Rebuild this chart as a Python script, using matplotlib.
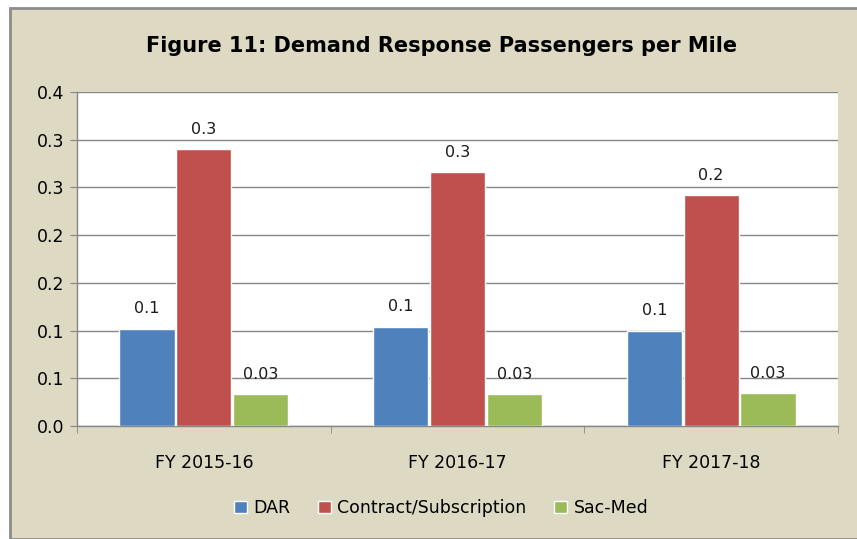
import matplotlib.pyplot as plt
import numpy as np
from matplotlib.patches import Rectangle
from matplotlib.ticker import MultipleLocator, FormatStrFormatter

years = ['FY 2015-16', 'FY 2016-17', 'FY 2017-18']
dar = [0.102, 0.104, 0.100]
contract = [0.290, 0.266, 0.242]
sac_med = [0.0335, 0.0333, 0.0345]

series = [
    ('DAR', dar, '#4F81BD', '{:.1f}'),
    ('Contract/Subscription', contract, '#C0504D', '{:.1f}'),
    ('Sac-Med', sac_med, '#9BBB59', '{:.2f}'),
]

plt.rcParams['font.family'] = ['DejaVu Sans']

fig = plt.figure(figsize=(8.57, 5.39), dpi=100, facecolor='white')
# beige chart-area background with grey border
fig.patches.append(Rectangle((10 / 857, 0), 1, 1 - 8 / 539, transform=fig.transFigure,
                             facecolor='#DDD9C3', edgecolor='#8C8C8C', linewidth=2, zorder=-5))

ax = fig.add_axes([77 / 857, 1 - 426 / 539, (838 - 77) / 857, (426 - 92) / 539])
ax.set_facecolor('white')

x = np.arange(len(years))
width = 0.218
for i, (name, vals, color, fmt) in enumerate(series):
    pos = x + (i - 1) * (width + 0.006)
    bars = ax.bar(pos, vals, width, color=color, edgecolor='white', linewidth=1, label=name, zorder=3)
    for b, v in zip(bars, vals):
        ax.annotate(fmt.format(v), (b.get_x() + b.get_width() / 2, v), textcoords='offset points',
                    xytext=(0, 9), ha='center', va='bottom', fontsize=11.5, color='#1a1a1a')

ax.set_ylim(0, 0.35)
ax.set_xlim(-0.5, 2.5)
ax.yaxis.set_major_locator(MultipleLocator(0.05))
ax.yaxis.set_major_formatter(FormatStrFormatter('%.1f'))
ax.grid(axis='y', color='#868686', linewidth=1, zorder=0)
ax.set_axisbelow(True)

ax.set_xticks(x)
ax.set_xticklabels(years)
ax.set_xticks([-0.5, 0.5, 1.5, 2.5], minor=True)
ax.tick_params(axis='x', which='major', length=0, pad=20, labelsize=12.5)
ax.tick_params(axis='x', which='minor', length=5, color='#868686')
ax.tick_params(axis='y', length=5, color='#868686', labelsize=12.5, pad=4)

for s in ['top', 'right']:
    ax.spines[s].set_visible(False)
for s in ['left', 'bottom']:
    ax.spines[s].set_color('#868686')
    ax.spines[s].set_linewidth(1)

fig.text(0.515, 1 - 46 / 539, 'Figure 11: Demand Response Passengers per Mile', ha='center', va='center',
         fontsize=15, fontweight='bold')

fig.legend(loc='center', bbox_to_anchor=(0.515, 1 - 508 / 539), ncol=3, frameon=False, fontsize=12.5,
           handlelength=0.7, handleheight=0.7, columnspacing=1.6, handletextpad=0.4)

fig.savefig('out.png', dpi=100, facecolor=fig.get_facecolor())
